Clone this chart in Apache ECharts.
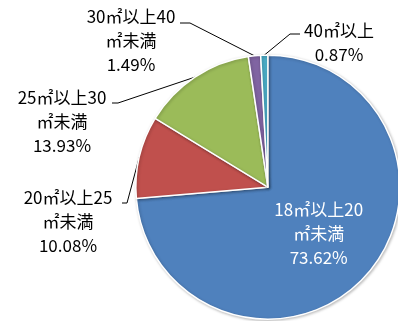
<!DOCTYPE html>
<html>
<head>
<meta charset="utf-8">
<script src="https://cdn.jsdelivr.net/npm/echarts@6/dist/echarts.min.js"></script>
<style>
  html, body { margin: 0; padding: 0; background: #fff; }
  #chart { width: 398px; height: 321px; }
</style>
</head>
<body>
<div id="chart"></div>
<script>
// Floor-area bands and their shares (%)
const categories = ['18㎡以上20\n㎡未満', '20㎡以上25\n㎡未満', '25㎡以上30\n㎡未満', '30㎡以上40\n㎡未満', '40㎡以上'];
const shares = [73.62, 10.08, 13.93, 1.49, 0.87];
const colors = ['#4F81BD', '#C0504D', '#9BBB59', '#8064A2', '#4BACC6'];

// Outside label placement: centre x of the text block, centre y of its first line,
// and the leader's elbow / tail (the tail runs horizontally at tailY up to the text).
const labelSpots = [
  null,
  { textX: 68,  textY: 198, elbowX: 127, tailX: 122, tailY: 203 },
  { textX: 62,  textY: 98,  elbowX: 118, tailX: 112, tailY: 103 },
  { textX: 131, textY: 17,  elbowX: 190, tailX: 180, tailY: 23 },
  { textX: 339, textY: 31,  elbowX: 290, tailX: 300, tailY: 34 }
];

const FONT = '"Noto Sans CJK JP", "Noto Sans", sans-serif';
const FONT_SIZE = 17;
const LINE_H = 24;
const CENTER = ['67.3%', '58.3%'];
const RADIUS = 132;

const chart = echarts.init(document.getElementById('chart'), null, { renderer: 'canvas' });
const total = shares.reduce((a, b) => a + b, 0);

// Point on the rim at the middle of slice i (start at 12 o'clock, clockwise)
function rimPoint(i) {
  const cx = chart.getWidth() * parseFloat(CENTER[0]) / 100;
  const cy = chart.getHeight() * parseFloat(CENTER[1]) / 100;
  let before = 0;
  for (let k = 0; k < i; k++) before += shares[k];
  const a = Math.PI / 2 - (before + shares[i] / 2) / total * Math.PI * 2;
  return [cx + RADIUS * Math.cos(a), cy - RADIUS * Math.sin(a)];
}

const data = categories.map((name, i) => {
  const item = { name, value: shares[i], itemStyle: { color: colors[i] } };
  if (i === 0) {
    item.label = { position: 'inside', color: '#ffffff' };
    item.labelLine = { show: false };
  }
  return item;
});

chart.setOption({
  animation: false,
  series: [{
    type: 'pie',
    center: CENTER,
    radius: RADIUS,
    startAngle: 90,
    clockwise: true,
    avoidLabelOverlap: false,
    data: data,
    itemStyle: {
      borderColor: '#ffffff',
      borderWidth: 1.5,
      shadowBlur: 3,
      shadowColor: 'rgba(0,0,0,0.25)',
      shadowOffsetX: 1,
      shadowOffsetY: 1
    },
    label: {
      show: true,
      position: 'outside',
      fontFamily: FONT,
      fontSize: FONT_SIZE,
      lineHeight: LINE_H,
      color: '#000000',
      align: 'center',
      formatter: p => p.name + '\n' + p.value.toFixed(2) + '%'
    },
    labelLine: {
      show: true,
      length: 10,
      length2: 10,
      lineStyle: { color: '#000000', width: 1 }
    },
    labelLayout: function (params) {
      const spot = labelSpots[params.dataIndex];
      if (!spot) return {};
      return {
        x: spot.textX,
        y: spot.textY - LINE_H / 2,
        align: 'center',
        verticalAlign: 'top',
        labelLinePoints: [rimPoint(params.dataIndex), [spot.elbowX, spot.tailY], [spot.tailX, spot.tailY]]
      };
    },
    emphasis: { disabled: true }
  }]
});
</script>
</body>
</html>
